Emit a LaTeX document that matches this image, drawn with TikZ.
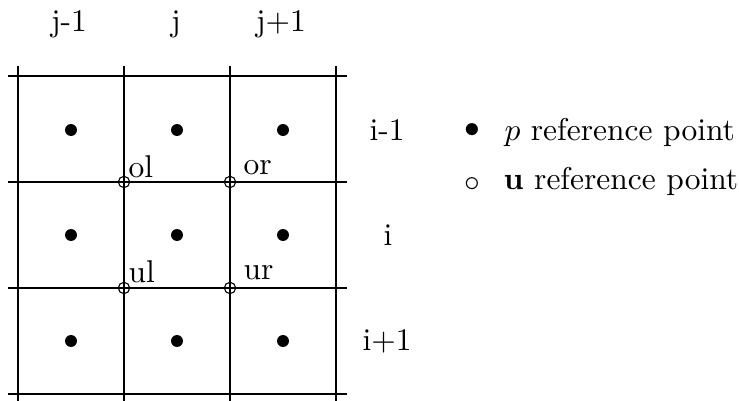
\documentclass[tikz,border=0pt]{standalone}
\begin{document}
\begin{tikzpicture}[x=0.3175pt,y=-0.3175pt,line width=0.35pt,
  pdot/.style={circle,fill=black,inner sep=0pt,minimum size=3.8pt},
  udot/.style={circle,draw=black,inner sep=0pt,minimum size=3.6pt},
  lbl/.style={anchor=base,inner sep=0pt}]
  \useasboundingbox (0,0) rectangle (739,401);
  % Draw grid
  \draw (8,76) -- (347,76);
  \draw (8,182) -- (347,182);
  \draw (8,288) -- (347,288);
  \draw (8,394) -- (347,394);
  \draw (18,66) -- (18,404);
  \draw (124,66) -- (124,404);
  \draw (230,66) -- (230,404);
  \draw (336,66) -- (336,404);
  % p reference points (cell centres)
  \node[pdot] (pa) at (71,130) {};  \node[pdot] (pb) at (177,130) {};  \node[pdot] (pc) at (283,130) {};
  \node[pdot] (pd) at (71,235) {};  \node[pdot] (pe) at (177,235) {};  \node[pdot] (pf) at (283,235) {};
  \node[pdot] (pg) at (71,341) {};  \node[pdot] (ph) at (177,341) {};  \node[pdot] (pi) at (283,341) {};
  % u reference points (corners)
  \node[udot] (ol) at (124,182) {};
  \node[udot] (or) at (230,182) {};
  \node[udot] (ul) at (124,288) {};
  \node[udot] (ur) at (230,288) {};
  \node[lbl,anchor=base west] (olname) at (128,178) {ol};
  \node[lbl,anchor=base west] (orname) at (243,175) {or};
  \node[lbl,anchor=base west] (ulname) at (128,283) {ul};
  \node[lbl,anchor=base west] (urname) at (243,280) {ur};
  % Indices
  \node[lbl] (jm) at (69,32) {j-1};
  \node[lbl] (j) at (176,32) {j};
  \node[lbl] (jp) at (281,32) {j+1};
  \node[lbl] (im) at (387,141) {i-1};
  \node[lbl] (i) at (388,246) {i};
  \node[lbl] (ip) at (387,351) {i+1};
  % Legend
  \node (legp) at (472,131) {$\bullet$};
  \node[lbl,anchor=base west] (legptext) at (504,141) {$p$ reference point};
  \node (legu) at (472,185) {$\circ$};
  \node[lbl,anchor=base west] (legutext) at (503,190) {$\mathbf{u}$ reference point};
\end{tikzpicture}
\end{document}
